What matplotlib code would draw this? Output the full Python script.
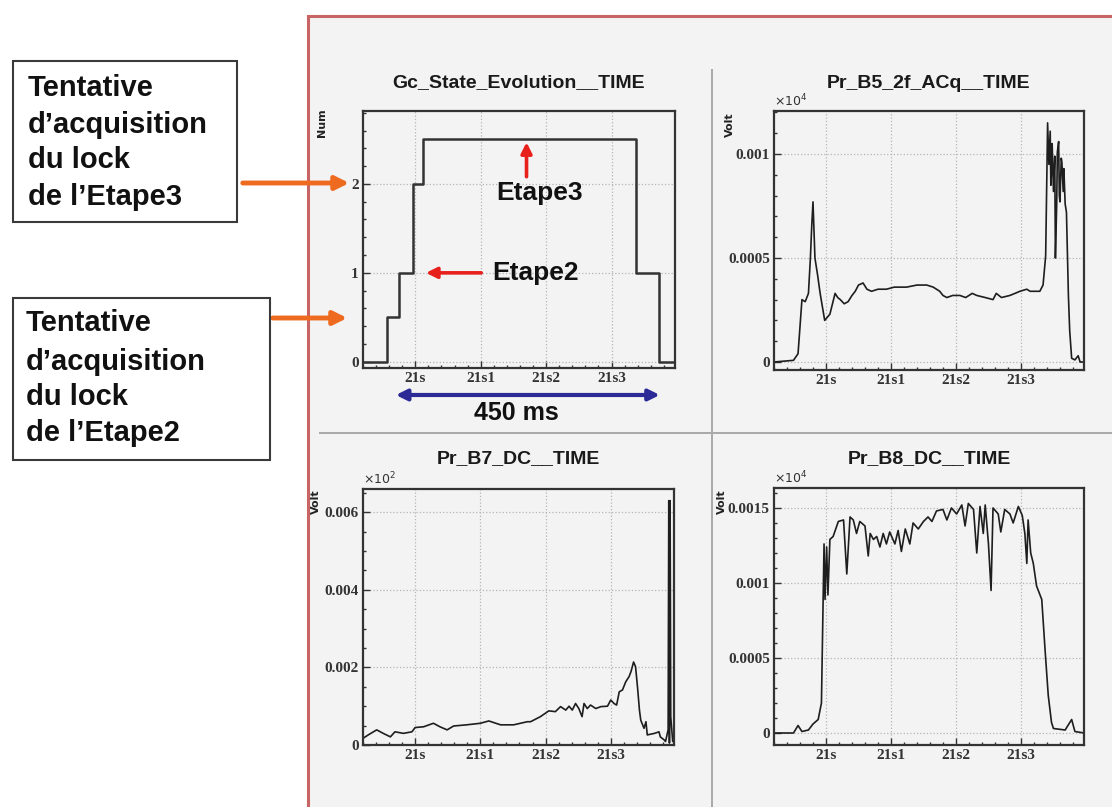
import matplotlib.pyplot as plt
from matplotlib.patches import Rectangle
from matplotlib.lines import Line2D
from matplotlib.ticker import MultipleLocator

W, H = 1112, 807

# shared time axis of the four pads
time_ticks = [21.0, 21.1, 21.2, 21.3]
time_labels = ['21s', '21s1', '21s2', '21s3']
x_range = (20.92, 21.397)

# Gc_State_Evolution__TIME (step edges / levels)
state_t = [20.92, 20.957, 20.975, 20.997, 21.011, 21.338, 21.372, 21.397]
state_v = [0, 0.5, 1, 2, 2.5, 1, 0, 0]

# Pr_B5_2f_ACq__TIME
b5_t = [20.92, 20.95, 20.957, 20.963, 20.968, 20.973, 20.976, 20.978, 20.980, 20.983,
        20.987, 20.991, 20.998, 21.006, 21.014, 21.018, 21.022, 21.028, 21.034, 21.040,
        21.045, 21.050, 21.057, 21.063, 21.070, 21.080, 21.093, 21.105, 21.124, 21.140,
        21.155, 21.165, 21.175, 21.180, 21.186, 21.195, 21.206, 21.215, 21.225, 21.232,
        21.245, 21.257, 21.262, 21.270, 21.283, 21.2985, 21.309, 21.314, 21.329, 21.334,
        21.338, 21.339, 21.341, 21.343, 21.345, 21.346, 21.347, 21.348, 21.350, 21.352,
        21.353, 21.355, 21.356, 21.358, 21.359, 21.360, 21.362, 21.363, 21.365, 21.366,
        21.368, 21.370, 21.373, 21.375, 21.378, 21.383, 21.388, 21.391, 21.397]
b5_v = [0, 0.000008, 0.00004, 0.0003, 0.00029, 0.00033, 0.0005, 0.00065, 0.00077, 0.0005,
        0.00042, 0.00033, 0.0002, 0.00023, 0.00033, 0.00031, 0.0003, 0.00028, 0.00029, 0.00032,
        0.00034, 0.00037, 0.00038, 0.00035, 0.00034, 0.00035, 0.00035, 0.00036, 0.00036, 0.00037,
        0.00037, 0.00036, 0.00034, 0.00032, 0.00031, 0.00032, 0.00032, 0.00031, 0.00033, 0.00032,
        0.00031, 0.0003, 0.00033, 0.00031, 0.00032, 0.00034, 0.00035, 0.00034, 0.00034, 0.00037,
        0.00051, 0.00072, 0.00115, 0.00095, 0.00111, 0.00085, 0.00092, 0.00105, 0.00082, 0.00099,
        0.0005, 0.00076, 0.00101, 0.00106, 0.0008, 0.00077, 0.00098, 0.00096, 0.00082, 0.00093,
        0.00076, 0.00072, 0.00032, 0.00015, 0.000018, 0.00001, 0.00003, 0.0, 0.0]

# Pr_B7_DC__TIME
b7_t = [20.92, 20.928, 20.941, 20.951, 20.962, 20.969, 20.982, 20.995, 21.0, 21.013,
        21.028, 21.038, 21.049, 21.059, 21.079, 21.1, 21.113, 21.131, 21.151, 21.172,
        21.177, 21.192, 21.205, 21.215, 21.223, 21.231, 21.236, 21.241, 21.246, 21.251,
        21.256, 21.259, 21.264, 21.269, 21.277, 21.285, 21.295, 21.3, 21.305, 21.309,
        21.313, 21.318, 21.323, 21.328, 21.331, 21.335, 21.338, 21.341, 21.344, 21.346,
        21.351, 21.354, 21.356, 21.367, 21.374, 21.376, 21.382, 21.384, 21.388, 21.389,
        21.390, 21.391, 21.392, 21.395, 21.397]
b7_v = [0.00017, 0.00026, 0.00039, 0.0003, 0.00021, 0.00034, 0.0003, 0.00034, 0.00045, 0.00047,
        0.00056, 0.00047, 0.00039, 0.00049, 0.00052, 0.00056, 0.00062, 0.00052, 0.00052, 0.0006,
        0.0006, 0.00073, 0.00088, 0.00086, 0.00099, 0.0009, 0.001, 0.0009, 0.00107, 0.00094,
        0.00073, 0.00107, 0.00094, 0.00103, 0.00094, 0.00099, 0.001, 0.00116, 0.00107, 0.00103,
        0.00137, 0.00142, 0.00163, 0.00176, 0.00189, 0.00214, 0.00202, 0.0015, 0.0009, 0.00064,
        0.00043, 0.0006, 0.00026, 0.0003, 0.00034, 0.00021, 0.00013, 0.00009, 0.00039, 0.0063,
        0.00005, 0.0063, 0.00073, 0.00009, 0.0002]

# Pr_B8_DC__TIME
b8_t = [20.92, 20.95, 20.957, 20.963, 20.973, 20.98, 20.988, 20.993, 20.997, 20.9985,
        21.001, 21.003, 21.006, 21.011, 21.019, 21.027, 21.032, 21.037, 21.042, 21.047,
        21.052, 21.060, 21.065, 21.068, 21.073, 21.078, 21.083, 21.088, 21.093, 21.098,
        21.106, 21.111, 21.116, 21.122, 21.129, 21.134, 21.142, 21.150, 21.157, 21.163,
        21.170, 21.180, 21.186, 21.193, 21.201, 21.209, 21.214, 21.219, 21.227, 21.232,
        21.237, 21.242, 21.245, 21.250, 21.254, 21.257, 21.265, 21.269, 21.275, 21.283,
        21.288, 21.296, 21.302, 21.306, 21.309, 21.311, 21.315, 21.319, 21.324, 21.332,
        21.337, 21.342, 21.347, 21.350, 21.368, 21.378, 21.383, 21.397]
b8_v = [0, 0, 0.00005, 0.00001, 0.00002, 0.00006, 0.00009, 0.0002, 0.00126, 0.00089,
        0.00124, 0.00092, 0.00129, 0.00131, 0.00141, 0.00142, 0.00106, 0.00144, 0.00142, 0.00133,
        0.00141, 0.00138, 0.00118, 0.00133, 0.00129, 0.00131, 0.00124, 0.00133, 0.00126, 0.00134,
        0.00126, 0.00135, 0.00121, 0.00136, 0.00126, 0.0014, 0.00136, 0.00141, 0.00144, 0.00141,
        0.00148, 0.00149, 0.00142, 0.0015, 0.00146, 0.00152, 0.00138, 0.00153, 0.00149, 0.0012,
        0.00151, 0.00133, 0.00152, 0.00126, 0.00095, 0.0015, 0.00146, 0.00134, 0.00149, 0.00146,
        0.0014, 0.00151, 0.00145, 0.00133, 0.00113, 0.00142, 0.0012, 0.00113, 0.00098, 0.00089,
        0.00056, 0.00025, 0.00007, 0.00003, 0.00002, 0.00009, 0.00001, 0]

CANVAS = '#f3f3f3'
LINE = '#1e1e1e'
ORANGE = '#ee6a1e'
RED = '#e8201c'
BLUE = '#2b2a96'


def frac(l, t, r, b):
    return [l / W, 1 - b / H, (r - l) / W, (b - t) / H]


def add_pad(box, ylim, yticks, ylabels, yminor, title, title_y, ylab, ylab_pos, mult=None):
    ax = fig.add_axes(frac(*box))
    ax.set_facecolor(CANVAS)
    ax.set_xlim(*x_range)
    ax.set_ylim(*ylim)
    ax.set_xticks(time_ticks)
    ax.set_xticklabels(time_labels)
    ax.set_yticks(yticks)
    ax.set_yticklabels(ylabels)
    ax.xaxis.set_minor_locator(MultipleLocator(0.02))
    ax.yaxis.set_minor_locator(MultipleLocator(yminor))
    ax.tick_params(which='both', direction='in', colors='#333333', width=1.0)
    ax.tick_params(which='major', length=5, labelsize=11, pad=3)
    ax.tick_params(which='minor', length=2.5)
    for lab in ax.get_xticklabels() + ax.get_yticklabels():
        lab.set_family('Liberation Serif')
        lab.set_fontweight('bold')
    ax.grid(True, which='major', ls=':', color='#b5b5b5', lw=0.9)
    for sp in ax.spines.values():
        sp.set_color('#333333')
        sp.set_linewidth(1.6)
    cx = (box[0] + box[2]) / 2
    fig.text(cx / W, 1 - title_y / H, title, ha='center', va='center',
             fontsize=14, fontweight='bold', family='Liberation Sans', color='#1a1a1a')
    fig.text(ylab_pos[0] / W, 1 - ylab_pos[1] / H, ylab, rotation=90, ha='center',
             va='center', fontsize=8, fontweight='bold', color='#222222')
    if mult:
        ax.text(0.0, 1.005, mult, transform=ax.transAxes, ha='left', va='bottom',
                fontsize=9, family='Liberation Serif', color='#333333')
    return ax


fig = plt.figure(figsize=(W / 100, H / 100), dpi=100)
fig.patch.set_facecolor('white')

# ROOT canvas frame, drawn under the pads
fig.add_artist(Rectangle((308 / W, -0.02), (W - 300) / W, (H - 16) / H + 0.02,
                         transform=fig.transFigure, facecolor=CANVAS,
                         edgecolor='#c96464', lw=2.2, clip_on=False, zorder=-5))
fig.add_artist(Line2D([712 / W, 712 / W], [0, 1 - 70 / H], transform=fig.transFigure,
                      color='#a8a8a8', lw=1.4, zorder=-4))
fig.add_artist(Line2D([320 / W, 1], [1 - 433 / H, 1 - 433 / H], transform=fig.transFigure,
                      color='#a8a8a8', lw=1.4, zorder=-4))

ax1 = add_pad((363, 111, 675, 368), (-0.07, 2.82), [0, 1, 2], ['0', '1', '2'], 0.2,
              'Gc_State_Evolution__TIME', 83, 'Num', (322, 123))
ax1.step(state_t, state_v, where='post', color='#333333', lw=1.8)

ax2 = add_pad((774, 111, 1084, 370), (-0.0000385, 0.001207), [0, 0.0005, 0.001],
              ['0', '0.0005', '0.001'], 0.0001,
              'Pr_B5_2f_ACq__TIME', 83, 'Volt', (730, 125), r'$\times10^{4}$')
ax2.plot(b5_t, b5_v, color=LINE, lw=1.2)

ax3 = add_pad((363, 489, 674, 745), (0, 0.0066), [0, 0.002, 0.004, 0.006],
              ['0', '0.002', '0.004', '0.006'], 0.0005,
              'Pr_B7_DC__TIME', 459, 'Volt', (316, 502), r'$\times10^{2}$')
ax3.plot(b7_t, b7_v, color=LINE, lw=1.2)

ax4 = add_pad((774, 488, 1084, 745), (-0.00008, 0.001633), [0, 0.0005, 0.001, 0.0015],
              ['0', '0.0005', '0.001', '0.0015'], 0.0001,
              'Pr_B8_DC__TIME', 459, 'Volt', (722, 502), r'$\times10^{4}$')
ax4.plot(b8_t, b8_v, color=LINE, lw=1.2)

# annotations on the state pad
ax1.annotate('', xy=(21.17, 2.5), xytext=(21.17, 2.05),
             arrowprops=dict(arrowstyle='-|>', color=RED, lw=2.6, mutation_scale=16))
ax1.text(21.19, 1.9, 'Etape3', ha='center', va='center', fontsize=19,
         fontweight='bold', family='Liberation Sans', color='#111111')
ax1.annotate('', xy=(21.012, 1.0), xytext=(21.105, 1.0),
             arrowprops=dict(arrowstyle='-|>', color=RED, lw=2.6, mutation_scale=16))
ax1.text(21.118, 1.0, 'Etape2', ha='left', va='center', fontsize=19,
         fontweight='bold', family='Liberation Sans', color='#111111')
ax1.annotate('', xy=(20.966, -0.105), xytext=(21.378, -0.105),
             xycoords=('data', 'axes fraction'), textcoords=('data', 'axes fraction'),
             arrowprops=dict(arrowstyle='<|-|>', color=BLUE, lw=3, mutation_scale=16),
             annotation_clip=False)
ax1.text(21.154, -0.175, '450 ms', transform=ax1.get_xaxis_transform(), ha='center',
         va='center', fontsize=18, fontweight='bold', family='Liberation Sans', color='#111111')

# left-hand comment boxes
boxes = [(13, 61, 237, 222, 28, [88, 125, 160, 197], '3'),
         (13, 298, 270, 460, 26, [323, 362, 397, 433], '2')]
for l, t, r, b, tx, ys, n in boxes:
    fig.add_artist(Rectangle((l / W, 1 - b / H), (r - l) / W, (b - t) / H,
                             transform=fig.transFigure, facecolor='white',
                             edgecolor='#3a3a3a', lw=1.5))
    lines = ['Tentative', 'd\u2019acquisition', 'du lock', 'de l\u2019Etape' + n]
    for y, s in zip(ys, lines):
        fig.text(tx / W, 1 - y / H, s, ha='left', va='center', fontsize=21,
                 fontweight='bold', family='Liberation Sans', color='#111111')

for x0, x1, y in [(240, 352, 183), (270, 350, 318)]:
    ax1.annotate('', xy=(x1, H - y), xytext=(x0, H - y),
                 xycoords='figure pixels', textcoords='figure pixels',
                 arrowprops=dict(arrowstyle='-|>', color=ORANGE, lw=3.5, mutation_scale=20),
                 annotation_clip=False)

fig.savefig('out.png', dpi=100, facecolor=fig.get_facecolor())
